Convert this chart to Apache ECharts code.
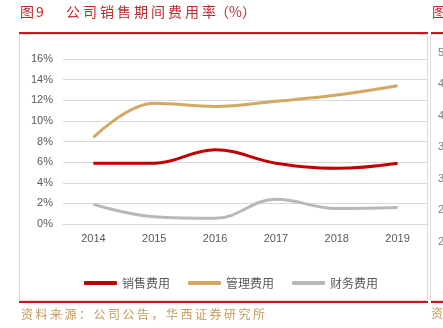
<!DOCTYPE html>
<html>
<head>
<meta charset="utf-8">
<style>
  html, body { margin: 0; padding: 0; background: #ffffff; }
  #chart { width: 443px; height: 328px; }
</style>
<script src="https://cdn.jsdelivr.net/npm/echarts@6/dist/echarts.min.js"></script>
</head>
<body>
<div id="chart"></div>
<script>
// ---- data ----
const years = ['2014', '2015', '2016', '2017', '2018', '2019'];
const sellingExp = [5.9, 5.9, 7.2, 5.9, 5.4, 5.9];     // 销售费用
const adminExp = [8.4, 11.7, 11.4, 11.9, 12.5, 13.4];  // 管理费用
const financeExp = [1.9, 0.7, 0.55, 2.4, 1.5, 1.6];    // 财务费用
const seriesNames = ['销售费用', '管理费用', '财务费用'];
const yTicks = [0, 2, 4, 6, 8, 10, 12, 14, 16];
const titleNo = '图9';
const titleText = '公司销售期间费用率';
const titleUnit = '（%）';
const sourceText = '资料来源：公司公告，华西证券研究所';
const nextPanelTicks = ['50%', '45%', '40%', '35%', '30%', '25%', '20%'];

const FONT = '"Noto Sans CJK SC", "Liberation Sans", sans-serif';
const NUMFONT = '"Liberation Sans", Arial, sans-serif';

function charTexts(str, x0, pitch, y, size, color) {
  const out = [];
  for (let i = 0; i < str.length; i++) {
    out.push({
      type: 'text', left: x0 + i * pitch, top: y - size / 2 - 1,
      style: { text: str[i], fontSize: size, fill: color, fontFamily: FONT }
    });
  }
  return out;
}

const chart = echarts.init(document.getElementById('chart'), null, { renderer: 'canvas' });

const graphics = [];
// panel frame
graphics.push({ type: 'rect', shape: { x: 19.5, y: 34.5, width: 408, height: 266 },
  style: { fill: 'none', stroke: '#DADADA', lineWidth: 1 }, z: -1 });
graphics.push({ type: 'rect', shape: { x: 19, y: 32, width: 409, height: 2 }, style: { fill: '#C8161E' } });
graphics.push({ type: 'rect', shape: { x: 19, y: 301, width: 409, height: 2 }, style: { fill: '#C8161E' } });
// next panel fragment
graphics.push({ type: 'rect', shape: { x: 430.5, y: 34.5, width: 30, height: 266 },
  style: { fill: 'none', stroke: '#DADADA', lineWidth: 1 }, z: -1 });
graphics.push({ type: 'rect', shape: { x: 431, y: 32, width: 20, height: 2 }, style: { fill: '#C8161E' } });
graphics.push({ type: 'rect', shape: { x: 431, y: 301, width: 20, height: 2 }, style: { fill: '#C8161E' } });
graphics.push({ type: 'text', left: 432, top: 5, style: { text: '图', fontSize: 14, fill: '#C0282D', fontFamily: FONT } });
graphics.push({ type: 'text', left: 431, top: 307, style: { text: '资', fontSize: 12, fill: '#C49A5A', fontFamily: FONT } });
nextPanelTicks.forEach((t, i) => {
  graphics.push({ type: 'text', left: 438, top: 47 + i * 31.5,
    style: { text: t, fontSize: 11, fill: '#7F7F7F', fontFamily: NUMFONT } });
});
// title
graphics.push(...charTexts(titleNo, 20, 16, 13, 14, '#C0282D'));
graphics.push(...charTexts(titleText, 66, 17, 13, 14, '#C0282D'));
graphics.push({ type: 'text', left: 215, top: 5,
  style: { text: titleUnit, fontSize: 14, fill: '#C0282D', fontFamily: FONT } });
// source
graphics.push(...charTexts(sourceText, 21, 14.5, 315, 12, '#C49A5A'));

const colors = ['#C00000', '#D4A762', '#B8B8B8'];

chart.setOption({
  animation: false,
  color: colors,
  grid: { left: 63, right: 15, top: 59, bottom: 104 },
  legend: {
    left: 79, top: 272, itemWidth: 33, itemHeight: 4, itemGap: 18,
    icon: 'roundRect',
    textStyle: { fontSize: 12, color: '#595959', fontFamily: FONT },
    data: seriesNames
  },
  xAxis: {
    type: 'category', data: years, boundaryGap: true,
    axisLine: { show: true, lineStyle: { color: '#D9D9D9', width: 1 } },
    axisTick: { show: false },
    axisLabel: { color: '#595959', fontSize: 11, fontFamily: NUMFONT, margin: 9 }
  },
  yAxis: {
    type: 'value', min: yTicks[0], max: yTicks[yTicks.length - 1], interval: 2,
    axisLine: { show: false }, axisTick: { show: false },
    splitLine: { lineStyle: { color: '#D9D9D9', width: 1 } },
    axisLabel: { color: '#595959', fontSize: 11, fontFamily: NUMFONT, margin: 10, formatter: '{value}%' }
  },
  series: [
    { name: seriesNames[0], type: 'line', data: sellingExp, smooth: 0.4, symbol: 'none',
      lineStyle: { width: 3, color: colors[0] } },
    { name: seriesNames[1], type: 'line', data: adminExp, smooth: 0.4, symbol: 'none',
      lineStyle: { width: 3, color: colors[1] } },
    { name: seriesNames[2], type: 'line', data: financeExp, smooth: 0.4, symbol: 'none',
      lineStyle: { width: 3, color: colors[2] } }
  ],
  graphic: graphics
});
</script>
</body>
</html>
